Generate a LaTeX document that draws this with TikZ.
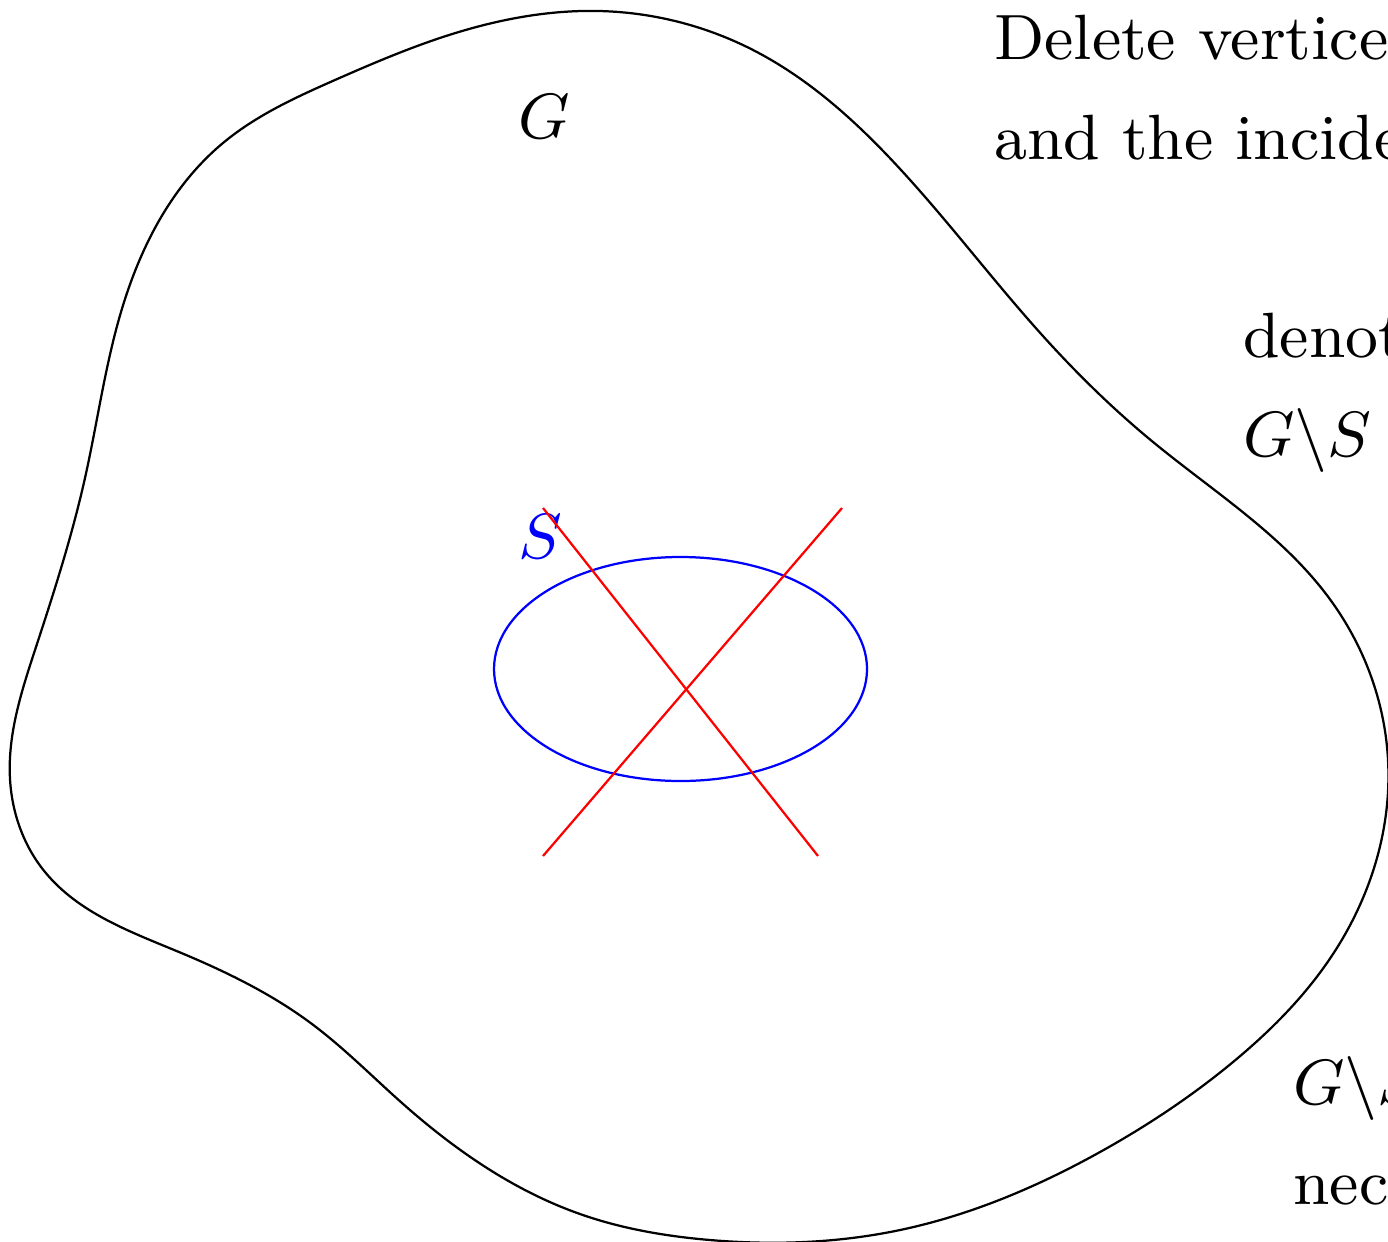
\documentclass[tikz,border=0pt]{standalone}
\usetikzlibrary{positioning,hobby}
\tikzset{
  note/.style={anchor=base west, inner sep=0pt, scale=1.111, font=\fontsize{9}{11}\selectfont},
  setlabel/.style={inner sep=0pt, scale=1.111, font=\fontsize{9}{11}\selectfont},
}
\begin{document}
\begin{tikzpicture}[x=15.625pt, y=15.625pt, line width=0.35pt]
    \useasboundingbox (0,0) rectangle (13.88,-12.41);
    % 图 G 的边界
    \draw[use Hobby shortcut, closed=true] (5.98,-0.11) .. (7.51,-0.49) .. (9.01,-1.70)
        .. (10.42,-3.35) .. (11.53,-4.42) .. (13.29,-5.98) .. (13.88,-7.60)
        .. (13.33,-9.54) .. (12.33,-10.62) .. (11.00,-11.52) .. (9.00,-12.30)
        .. (7.10,-12.40) .. (5.80,-12.14) .. (4.02,-11.03) .. (3.12,-10.24)
        .. (1.79,-9.52) .. (0.45,-8.72) .. (0.10,-7.79) .. (0.36,-6.47)
        .. (0.85,-4.78) .. (1.21,-3.12) .. (2.23,-1.43) .. (3.35,-0.80)
        .. (4.46,-0.36);
    \node[setlabel] (gname) at (5.44,-1.17) {$G$};

    % 顶点集 S
    \draw[blue] (6.805,-6.69) ellipse (1.865 and 1.12);
    \node[setlabel, text=blue] (sname) at (5.40,-5.37) {$S$};

    % 删去的边
    \coordinate (a1) at (5.43,-5.08);
    \coordinate (a2) at (8.18,-8.56);
    \coordinate (b1) at (8.42,-5.08);
    \coordinate (b2) at (5.43,-8.56);
    \draw[red] (a1) -- (a2);
    \draw[red] (b1) -- (b2);

    % 说明文字
    \node[note] (del1) at (9.93,-0.60) {Delete vertices in $S$};
    \node[note] (del2) at (9.93,-1.60) {and the incident edges};
    \node[note] (res1) at (12.42,-3.58) {denoted};
    \node[note] (res2) at (12.42,-4.56) {$G\backslash S$};
    \node[note] (con1) at (12.92,-11.04) {$G\backslash S$ is not};
    \node[note] (con2) at (12.92,-12.04) {necessarily connected};
\end{tikzpicture}
\end{document}
